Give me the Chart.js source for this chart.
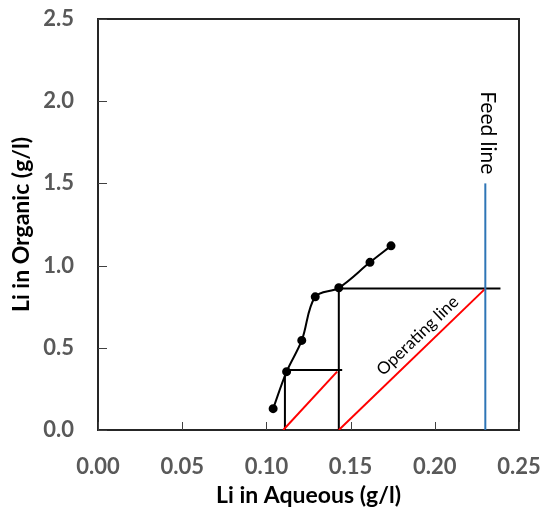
<!DOCTYPE html>
<html>
<head>
<meta charset="utf-8">
<script src="https://cdn.jsdelivr.net/npm/chart.js@4.4.1/dist/chart.umd.min.js"></script>
<style>
  html, body { margin: 0; padding: 0; background: #fff; }
  #wrap { width: 545px; height: 511px; position: relative; }
</style>
</head>
<body>
<div id="wrap"><canvas id="mccabe"></canvas></div>
<script>
// equilibrium isotherm (measured points)
const aqLi = [0.104, 0.112, 0.121, 0.129, 0.143, 0.1615, 0.174];
const orgLi = [0.13, 0.355, 0.545, 0.81, 0.865, 1.02, 1.12];

// stage construction
const step1X = [0.239, 0.143, 0.143];
const step1Y = [0.86, 0.86, 0];
const step2X = [0.145, 0.111, 0.111];
const step2Y = [0.365, 0.365, 0];

// operating lines
const op1X = [0.143, 0.230];
const op1Y = [0, 0.86];
const op2X = [0.110, 0.142];
const op2Y = [0, 0.355];

// feed line
const feedX = [0.230, 0.230];
const feedY = [0, 1.5];

const xTicks = [0, 0.05, 0.10, 0.15, 0.20, 0.25];
const yTicks = [0, 0.5, 1.0, 1.5, 2.0, 2.5];

function pts(xs, ys) {
    return xs.map((x, i) => ({ x: x, y: ys[i] }));
}

function lineSet(xs, ys, color) {
    return {
        data: pts(xs, ys),
        showLine: true,
        borderColor: color,
        backgroundColor: color,
        borderWidth: 2,
        pointRadius: 0,
        tension: 0
    };
}

const decor = {
    id: 'decor',
    beforeDatasetsDraw(chart) {
        const ctx = chart.ctx;
        const a = chart.chartArea;
        const xs = chart.scales.x, ys = chart.scales.y;
        ctx.save();
        ctx.strokeStyle = '#262626';
        ctx.lineWidth = 2;
        ctx.strokeRect(a.left, a.top, a.right - a.left, a.bottom - a.top);
        // inside tick marks
        ctx.lineWidth = 1;
        ctx.strokeStyle = '#404040';
        ctx.beginPath();
        xTicks.forEach(v => {
            const px = Math.round(xs.getPixelForValue(v)) + 0.5;
            ctx.moveTo(px, a.bottom);
            ctx.lineTo(px, a.bottom - 8);
        });
        yTicks.forEach(v => {
            const py = Math.round(ys.getPixelForValue(v)) + 0.5;
            ctx.moveTo(a.left, py);
            ctx.lineTo(a.left + 9, py);
        });
        ctx.stroke();
        ctx.restore();
    },
    afterDatasetsDraw(chart) {
        const ctx = chart.ctx;
        const xs = chart.scales.x, ys = chart.scales.y;
        ctx.save();
        ctx.fillStyle = '#000';
        // Feed line label
        ctx.font = '21px Lato';
        ctx.translate(xs.getPixelForValue(feedX[0]) + 2, ys.getPixelForValue(2.06));
        ctx.rotate(Math.PI / 2);
        ctx.textAlign = 'left';
        ctx.textBaseline = 'middle';
        ctx.fillText('Feed line', 0, 0);
        ctx.restore();

        // Operating line label
        ctx.save();
        const x0 = xs.getPixelForValue(op1X[0]), y0 = ys.getPixelForValue(op1Y[0]);
        const x1 = xs.getPixelForValue(op1X[1]), y1 = ys.getPixelForValue(op1Y[1]);
        const ang = Math.atan2(y1 - y0, x1 - x0);
        const t = 0.6;
        const cx = x0 + (x1 - x0) * t, cy = y0 + (y1 - y0) * t;
        const off = 13;
        ctx.translate(cx + Math.sin(ang) * off, cy - Math.cos(ang) * off);
        ctx.rotate(ang);
        ctx.font = '17px Lato';
        ctx.fillStyle = '#000';
        ctx.textAlign = 'center';
        ctx.textBaseline = 'middle';
        ctx.fillText('Operating line', 0, 0);
        ctx.restore();
    }
};

const eq = {
    data: pts(aqLi, orgLi),
    showLine: true,
    borderColor: '#000',
    backgroundColor: '#000',
    borderWidth: 2,
    pointRadius: 3.5,
    pointHoverRadius: 3.5,
    tension: 0.35
};

function noOverhang(s) {
    s.paddingTop = 0;
    s.paddingBottom = 0;
    s.paddingLeft = 0;
    s.paddingRight = 0;
}

const ctx = document.getElementById('mccabe').getContext('2d');
const chart = new Chart(ctx, {
    type: 'scatter',
    data: {
        datasets: [
            lineSet(feedX, feedY, '#2E75B6'),
            lineSet(op1X, op1Y, '#FF0000'),
            lineSet(op2X, op2Y, '#FF0000'),
            lineSet(step1X, step1Y, '#000'),
            lineSet(step2X, step2Y, '#000'),
            eq
        ]
    },
    options: {
        responsive: true,
        maintainAspectRatio: false,
        animation: false,
        layout: { padding: { top: 19, right: 26, left: 0, bottom: 0 } },
        plugins: {
            legend: { display: false },
            tooltip: { enabled: false }
        },
        scales: {
            x: {
                type: 'linear',
                min: 0,
                max: 0.25,
                afterBuildTicks: s => { s.ticks = xTicks.map(v => ({ value: v })); },
                afterFit: s => { s.height = 81; noOverhang(s); },
                grid: { display: false, drawTicks: false },
                border: { display: false },
                ticks: {
                    padding: 24,
                    color: '#595959',
                    font: { family: 'Lato', size: 22, weight: 'bold' },
                    callback: v => v.toFixed(2)
                },
                title: {
                    display: true,
                    text: 'Li in Aqueous (g/l)',
                    color: '#000',
                    font: { family: 'Lato', size: 23, weight: 'bold' },
                    padding: { top: 0, bottom: 2 }
                }
            },
            y: {
                type: 'linear',
                min: 0,
                max: 2.5,
                afterBuildTicks: s => { s.ticks = yTicks.map(v => ({ value: v })); },
                afterFit: s => { s.width = 98; noOverhang(s); },
                grid: { display: false, drawTicks: false },
                border: { display: false },
                ticks: {
                    padding: 24,
                    color: '#595959',
                    font: { family: 'Lato', size: 22, weight: 'bold' },
                    callback: v => v.toFixed(1)
                },
                title: {
                    display: true,
                    text: 'Li in Organic (g/l)',
                    color: '#000',
                    font: { family: 'Lato', size: 23, weight: 'bold' },
                    padding: { top: 8, bottom: 0 }
                }
            }
        }
    },
    plugins: [decor]
});
</script>
</body>
</html>
